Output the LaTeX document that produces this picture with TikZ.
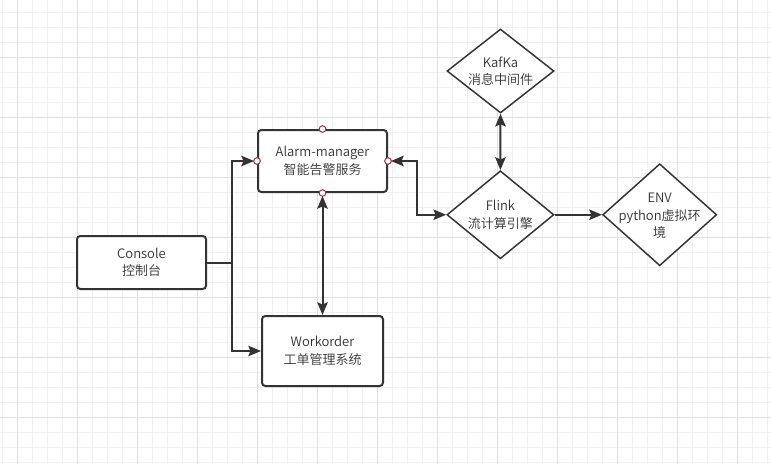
\documentclass[tikz,border=0pt]{standalone}
\usepackage{fontspec}
\setmainfont{Noto Sans CJK SC}[UprightFont={* DemiLight}]
\usetikzlibrary{shapes.geometric,arrows.meta}
\definecolor{gridminor}{RGB}{240,240,240}
\definecolor{gridmajor}{RGB}{224,224,224}
\definecolor{ink}{RGB}{51,51,51}
\definecolor{txtc}{RGB}{51,51,51}
\definecolor{pointc}{RGB}{160,50,50}
\tikzset{
  gminor/.style={draw=gridminor,line width=0.75pt},
  gmajor/.style={draw=gridmajor,line width=0.75pt},
  boxn/.style={draw=ink,line width=1.5pt,rounded corners=2.5pt,fill=white,inner sep=0pt,
    font=\fontsize{9.75pt}{13.1pt}\selectfont,text=txtc,align=center},
  diam/.style={diamond,draw=ink,line width=1.1pt,fill=white,inner sep=0pt},
  dtxt/.style={font=\fontsize{9.75pt}{13.1pt}\selectfont,text=txtc,align=center,inner sep=0pt},
  cpt/.style={circle,draw=pointc,fill=white,line width=0.75pt,minimum size=5pt,inner sep=0pt},
  tipA/.tip={Stealth[length=9.5pt,width=7.8pt,inset=1.6pt]},
  conn/.style={draw=ink,line width=1.5pt,-tipA},
  conn2/.style={draw=ink,line width=1.5pt,tipA-tipA}
}
\begin{document}
\begin{tikzpicture}[x=0.75pt,y=-0.75pt]
\useasboundingbox (0,0) rectangle (771,464);
\fill[white] (0,0) rectangle (771,464);
% grid
\foreach \i in {0,...,51} \draw[gminor] ({2.5+15*\i},0) -- ({2.5+15*\i},464);
\foreach \i in {0,...,30} \draw[gminor] (0,{12.5+15*\i}) -- (771,{12.5+15*\i});
\foreach \i in {0,...,12} \draw[gmajor] ({17.5+60*\i},0) -- ({17.5+60*\i},464);
\foreach \i in {0,...,6} \draw[gmajor] (0,{57.5+60*\i}) -- (771,{57.5+60*\i});

% nodes
\node[boxn,minimum width=96.75pt,minimum height=46.5pt] (alarm) at (322.5,161) {Alarm-manager\\智能告警服务};
\node[boxn,minimum width=96.75pt,minimum height=39.75pt] (console) at (141.5,262.5) {Console\\控制台};
\node[boxn,minimum width=90.75pt,minimum height=52.5pt] (work) at (322.5,351) {Workorder\\工单管理系统};

\node[diam,minimum width=80.25pt,minimum height=63pt] (kafka) at (500.5,71) {};
\node[dtxt] (kafkatxt) at (kafka.center) {KafKa\\消息中间件};
\node[diam,minimum width=80.25pt,minimum height=66pt] (flink) at (500.4,214.75) {};
\node[dtxt] (flinktxt) at (flink.center) {Flink\\流计算引擎};
\node[diam,minimum width=85.5pt,minimum height=76.5pt] (env) at (659.7,214.75) {};
\node[dtxt] (envtxt) at ([yshift=-1pt]env.center) {ENV\\python虚拟环\\境};

% connectors
\coordinate (trunk) at (232,262.5);
\draw[draw=ink,line width=1.5pt] (console.east) -- (trunk);
\draw[conn,shorten >=2.2pt] (trunk) |- (alarm.west);
\draw[conn] (trunk) |- (work.west);
\draw[conn2,shorten <=2.2pt] (alarm.south) -- (work.north);
\coordinate (bend) at (416.5,161);
\draw[conn2,shorten <=2.2pt] (alarm.east) -- (bend) |- (flink.west);
\draw[conn2] (kafka.south) -- (flink.north);
\draw[conn] (flink.east) -- (env.west);

% connection points on the selected box
\node[cpt] (pt) at (alarm.north) {};
\node[cpt] (pb) at (alarm.south) {};
\node[cpt] (pl) at (alarm.west) {};
\node[cpt] (pr) at (alarm.east) {};
\end{tikzpicture}
\end{document}
